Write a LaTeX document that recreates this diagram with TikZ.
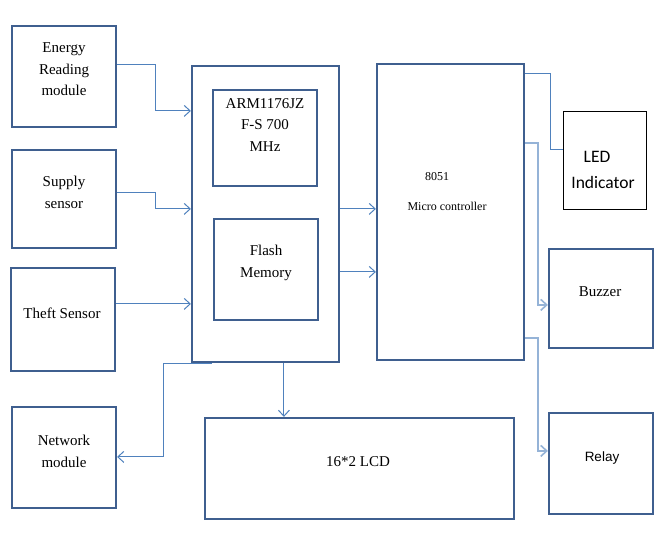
\documentclass[tikz,border=0pt]{standalone}
\usepackage{fontspec}
\setmainfont{Liberation Serif}
\newfontfamily\calibrifont{Carlito}
\newfontfamily\arialfont{Liberation Sans}
\usetikzlibrary{arrows.meta,fit,calc}
\definecolor{boxc}{HTML}{3F5F8F}
\definecolor{linec}{HTML}{4F81BD}
\definecolor{lightc}{HTML}{95B3D7}
\begin{document}
\begin{tikzpicture}[x=1pt,y=-1pt,
  box/.style={draw=boxc, line width=2.2pt, inner sep=0pt},
  thinbox/.style={draw=black, line width=1pt, inner sep=0pt},
  conn/.style={draw=linec, line width=1pt},
  lconn/.style={draw=lightc, line width=1.6pt},
  arr/.style={-{Straight Barb[length=6pt,width=11pt]}},
  txt/.style={font=\fontsize{15}{21.5}\selectfont, align=center, inner sep=0pt},
  small/.style={font=\fontsize{12}{13}\selectfont, inner sep=0pt}]
\useasboundingbox (0,0) rectangle (672,548);

% boxes
\node[box, fit={(12,26)(116,127)}] (energy) {};
\node[box, fit={(12,150)(116,248)}] (supply) {};
\node[box, fit={(11,268)(115,371)}] (theft) {};
\node[box, fit={(12,407)(116,508)}] (network) {};
\node[box, fit={(192,66)(339,362)}] (arm) {};
\node[box, fit={(213,90)(317,186)}] (cpu) {};
\node[box, fit={(214,219)(318,320)}] (flash) {};
\node[box, fit={(205,418)(514,519)}] (lcd) {};
\node[box, fit={(377,64)(524,360)}] (micro) {};
\node[thinbox, fit={(563,112)(646,210)}] (led) {};
\node[box, fit={(549,249)(653,348)}] (buzzer) {};
\node[box, fit={(549,413)(653,514)}] (relay) {};

% texts
\node[txt] (energyT) at (64,69.5) {Energy\\Reading\\module};
\node[txt] (supplyT) at (64,192.5) {Supply\\sensor};
\node[txt] (theftT) at (62,313) {Theft Sensor};
\node[txt] (networkT) at (64,451.5) {Network\\module};
\node[txt] (cpuT) at (265,125) {ARM1176JZ\\F-S 700\\MHz};
\node[txt] (flashT) at (266,263) {Flash\\Memory};
\node[txt] (lcdT) at (358,462) {16*2 LCD};
\node[small] (microA) at (437,177) {8051};
\node[small] (microB) at (447,206) {Micro controller};
\node[font=\calibrifont\fontsize{17.5}{20}\selectfont, inner sep=0pt] (ledA) at (597,157) {LED};
\node[font=\calibrifont\fontsize{17.5}{20}\selectfont, inner sep=0pt] (ledB) at (603,182) {Indicator};
\node[txt] (buzzerT) at (600,292) {Buzzer};
\node[font=\arialfont\fontsize{13.5}{15}\selectfont, inner sep=0pt] (relayT) at (602,458) {Relay};

% connectors
\draw[conn,arr] ($(energy.north east)+(0,40)$) -- ++(38,0) |- ($(arm.north west)+(0,46)$);
\draw[conn,arr] ($(supply.north east)+(0,44)$) -- ++(38,0) |- ($(arm.north west)+(0,144)$);
\draw[conn,arr] ($(theft.north east)+(0,37)$) -- ($(arm.north west)+(0,239)$);
\draw[conn,arr] ($(arm.north east)+(0,144)$) -- ($(micro.north west)+(0,146)$);
\draw[conn,arr] ($(arm.north east)+(0,207)$) -- ($(micro.north west)+(0,209)$);
\draw[conn,arr] ($(arm.south west)+(21,0)$) -- ++(-48,0) |- ($(network.north east)+(0,51)$);
\draw[conn,arr] ($(arm.south west)+(93,0)$) -- ($(lcd.north west)+(80,0)$);
\draw[conn] ($(micro.north east)+(0,11)$) -- ++(25,0) |- ($(led.north west)+(0,38)$);
\draw[lconn,arr] ($(micro.north east)+(0,80)$) -- ++(13,0) |- ($(buzzer.north west)+(0,57)$);
\draw[lconn,arr] ($(micro.north east)+(0,275)$) -- ++(13,0) |- ($(relay.north west)+(0,39)$);
\end{tikzpicture}
\end{document}
